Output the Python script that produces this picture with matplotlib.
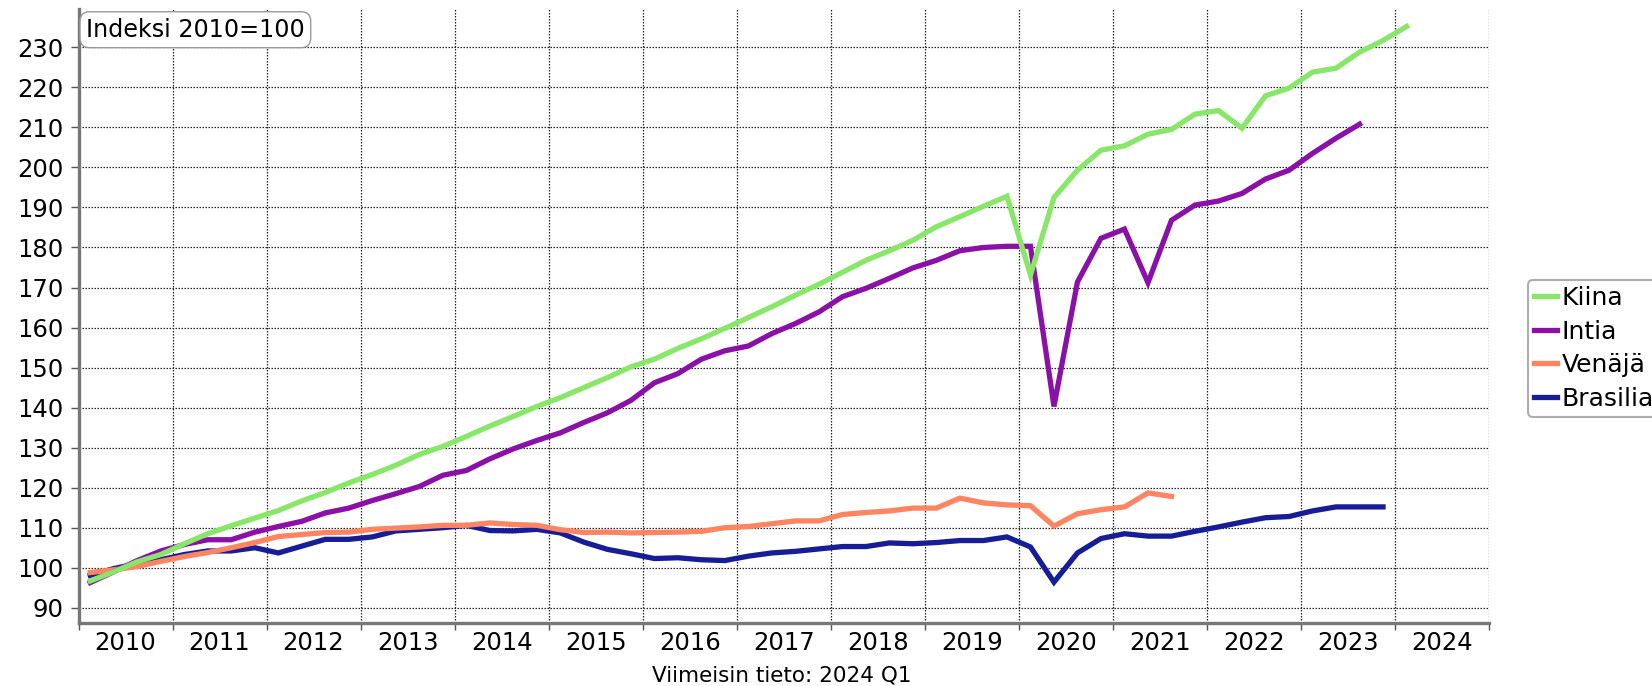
import numpy as np
import pandas as pd
import matplotlib
matplotlib.use("Agg")
import matplotlib.pyplot as plt
from matplotlib.ticker import MultipleLocator, FixedLocator, NullFormatter

# quarterly index values, 2010=100, starting 2010Q1
kiina = [96.7, 99.0, 101.5, 103.3,
         106.0, 108.5, 110.5, 112.4,
         114.3, 116.7, 118.8, 121.2,
         123.3, 125.6, 128.3, 130.3,
         132.8, 135.4, 137.8, 140.3,
         142.5, 145.0, 147.5, 150.2,
         152.1, 154.8, 157.2, 159.8,
         162.5, 165.2, 168.1, 170.8,
         173.8, 176.8, 179.2, 181.8,
         185.2, 187.7, 190.3, 192.8,
         173.1, 192.5, 199.3, 204.3,
         205.4, 208.3, 209.5, 213.3,
         214.2, 209.8, 217.9, 219.8,
         223.8, 224.8, 228.8, 231.7,
         235.2]
intia = [96.3, 99.0, 101.8, 104.2,
         105.8, 107.0, 107.0, 108.9,
         110.3, 111.6, 113.7, 114.9,
         116.8, 118.5, 120.3, 123.1,
         124.3, 127.2, 129.7, 131.8,
         133.7, 136.3, 138.7, 141.8,
         146.2, 148.5, 152.1, 154.2,
         155.4, 158.5, 161.0, 163.9,
         167.7, 169.8, 172.3, 174.9,
         176.8, 179.2, 180.0, 180.3,
         180.3, 140.3, 171.4, 182.3,
         184.6, 171.2, 186.8, 190.6,
         191.6, 193.5, 197.1, 199.3,
         203.5, 207.3, 210.8]
venaja = [98.8, 99.5, 100.3, 101.6,
          102.8, 103.8, 105.0, 106.3,
          107.8, 108.3, 108.8, 108.9,
          109.6, 109.9, 110.2, 110.6,
          110.6, 111.2, 110.8, 110.6,
          109.5, 108.8, 108.9, 108.7,
          108.8, 108.9, 109.1, 110.0,
          110.3, 111.0, 111.7, 111.7,
          113.3, 113.8, 114.2, 114.9,
          114.9, 117.4, 116.2, 115.7,
          115.5, 110.4, 113.5, 114.5,
          115.2, 118.7, 117.8]
brasilia = [98.1, 99.8, 101.0, 102.0,
            103.3, 104.2, 104.2, 105.0,
            103.7, 105.4, 107.1, 107.1,
            107.7, 109.2, 109.6, 110.0,
            110.6, 109.3, 109.2, 109.6,
            108.7, 106.4, 104.6, 103.5,
            102.3, 102.5, 102.0, 101.8,
            102.9, 103.7, 104.1, 104.7,
            105.3, 105.3, 106.2, 106.0,
            106.3, 106.8, 106.8, 107.7,
            105.2, 96.4, 103.7, 107.3,
            108.5, 107.9, 107.9, 109.1,
            110.2, 111.4, 112.5, 112.8,
            114.2, 115.2, 115.2, 115.2]

years = list(range(2010, 2025))
series = [("Kiina", kiina, "#88e668"),
          ("Intia", intia, "#8a10a8"),
          ("Venäjä", venaja, "#ff8462"),
          ("Brasilia", brasilia, "#161d96")]

quarters = pd.period_range("2010Q1", "2024Q1", freq="Q")


def qpos(n):
    q = quarters[:n]
    return np.array([p.year + (p.quarter - 0.5) / 4 for p in q])


fig = plt.figure(figsize=(16.52, 6.86), dpi=100)
ax = fig.add_axes([78.5 / 1652, 1 - 623 / 686, (1488.8 - 78.5) / 1652, (623 - 9.3) / 686])

lines = {}
for name, vals, col in reversed(series):
    lines[name], = ax.plot(qpos(len(vals)), vals, color=col, lw=3.8, label=name,
                           solid_joinstyle="miter", zorder=3)

ax.set_xlim(2010, 2025)
ax.set_ylim(86.2, 239.5)

ax.yaxis.set_major_locator(FixedLocator(range(90, 240, 10)))
ax.xaxis.set_major_locator(MultipleLocator(1))
ax.xaxis.set_major_formatter(NullFormatter())
ax.xaxis.set_minor_locator(FixedLocator([y + 0.5 for y in years]))
ax.set_xticklabels([str(y) for y in years], minor=True)

ax.tick_params(axis="y", labelsize=17.5, length=6, width=1, color="#555555", pad=4.5)
ax.tick_params(axis="x", which="major", length=5, width=1, color="#555555")
ax.tick_params(axis="x", which="minor", length=0, labelsize=17.5, pad=5.5)

ax.grid(True, which="major", color="#222222", linestyle=(0, (1.2, 1.2)), lw=0.9)
for s in ["top", "right"]:
    ax.spines[s].set_visible(False)
for s in ["left", "bottom"]:
    ax.spines[s].set_color("#777777")
    ax.spines[s].set_linewidth(2.4)

fig.text(86 / 1652, 1 - 29.7 / 686, "Indeksi 2010=100", fontsize=17.2, ha="left", va="center",
         bbox=dict(boxstyle="round,pad=0.25,rounding_size=0.4", fc="white", ec="#999999", lw=1))

fig.text(782 / 1652, 1 - 675 / 686, "Viimeisin tieto: 2024 Q1", fontsize=15.5, ha="center", va="center")

handles = [lines[n] for n, _, _ in series]
leg = fig.legend(handles, [n for n, _, _ in series], loc="center left",
                 bbox_to_anchor=(1528 / 1652, 1 - 348.4 / 686), fontsize=18,
                 handlelength=0.9, handletextpad=0.2, borderpad=0.25, labelspacing=0.38,
                 borderaxespad=0, frameon=True, fancybox=True)
leg.get_frame().set_edgecolor("#999999")
leg.get_frame().set_linewidth(1.5)

fig.savefig("out.png", dpi=100)
